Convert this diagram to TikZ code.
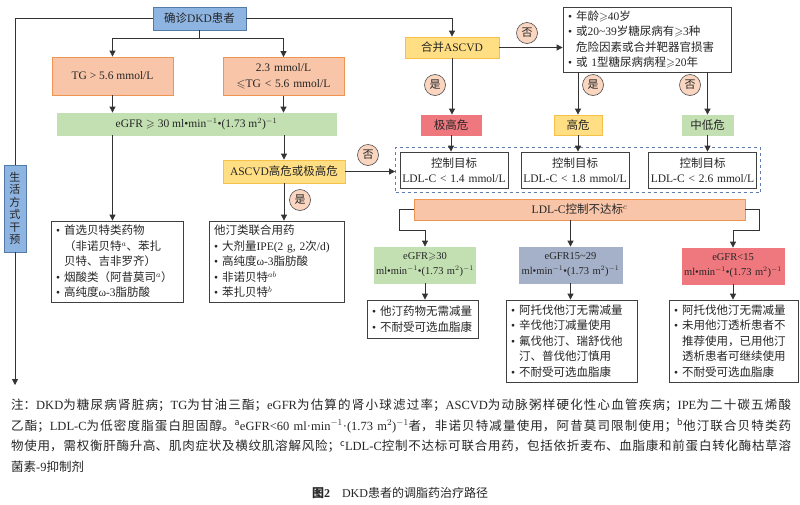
\documentclass[tikz,border=0pt]{standalone}
\usepackage{amssymb}
\usepackage{fontspec}
\setmainfont{Noto Sans CJK SC}
\newfontfamily\cjk{Noto Sans CJK SC}
\newfontfamily\latin{Liberation Serif}
\usetikzlibrary{arrows.meta,fit}

% 汉字与西文自动换字体
\XeTeXinterchartokenstate=1
\chardef\cjkcls=9
\newcount\cjkc
\def\setcjkcls#1#2{\cjkc=#1\relax
  \loop\XeTeXcharclass\cjkc=\cjkcls\relax
  \ifnum\cjkc<#2\advance\cjkc by 1\repeat}
\setcjkcls{"3000}{"303F}
\setcjkcls{"4E00}{"9FFF}
\setcjkcls{"FF00}{"FFEF}
\XeTeXinterchartoks 0 \cjkcls = {\cjk}
\XeTeXinterchartoks 1 \cjkcls = {\cjk}
\XeTeXinterchartoks 2 \cjkcls = {\cjk}
\XeTeXinterchartoks 3 \cjkcls = {\cjk}
\XeTeXinterchartoks 4095 \cjkcls = {\cjk}
\XeTeXinterchartoks \cjkcls 0 = {\latin}
\XeTeXinterchartoks \cjkcls 1 = {\latin}
\XeTeXinterchartoks \cjkcls 2 = {\latin}
\XeTeXinterchartoks \cjkcls 3 = {\latin}
\XeTeXinterchartoks 4095 0 = {\latin}
\XeTeXinterchartoks 4095 1 = {\latin}
\XeTeXinterchartoks 4095 2 = {\latin}
\XeTeXinterchartoks 4095 3 = {\latin}

\definecolor{cblue}{RGB}{142,180,226}
\definecolor{cblueline}{RGB}{84,122,170}
\definecolor{corg}{RGB}{248,197,168}
\definecolor{corgline}{RGB}{240,148,84}
\definecolor{cgrn}{RGB}{195,224,178}
\definecolor{cylw}{RGB}{255,222,132}
\definecolor{cylwline}{RGB}{247,192,72}
\definecolor{cred}{RGB}{239,120,126}
\definecolor{cgry}{RGB}{164,177,200}
\definecolor{ccirc}{RGB}{250,213,192}
\definecolor{cframe}{RGB}{96,124,172}

\newcommand{\dotitem}{\textbullet\hspace{4pt}}
\newcommand{\dotskip}{\phantom{\dotitem}}
\newcommand{\gfrunit}{\mbox{ml•min$^{-1}$•(1.73 m$^2$)$^{-1}$}}

\tikzset{
  every node/.style={font=\fontsize{11.5}{15.5}\selectfont, text=black!85},
  bx/.style={rectangle, inner sep=2pt, line width=0.8pt},
  bluebx/.style={bx, fill=cblue, draw=cblueline},
  orgbx/.style={bx, fill=corg, draw=corgline},
  grnbx/.style={bx, fill=cgrn, draw=cgrn},
  ylwbx/.style={bx, fill=cylw, draw=cylwline},
  redbx/.style={bx, fill=cred, draw=cred},
  grybx/.style={bx, fill=cgry, draw=cgry},
  tgtbx/.style={bx, fill=white, draw=black!75, minimum width=108pt, minimum height=36pt, text width=104pt, align=center},
  gfrbx/.style={minimum height=36pt, inner xsep=0pt, align=center, font=\fontsize{10.5}{15}\selectfont},
  txtbx/.style={bx, inner xsep=5pt, fill=white, draw=black!75, align=left},
  yn/.style={circle, fill=ccirc, draw=black!70, line width=0.6pt, inner sep=0pt, minimum size=21pt, font=\fontsize{11}{11}\selectfont},
  ln/.style={line width=0.8pt, draw=black!80},
  arr/.style={ln, -{Triangle[length=6pt,width=6pt]}}
}

\begin{document}
\begin{tikzpicture}[x=1pt, y=-1pt]
    \useasboundingbox[fill=white] (0,0) rectangle (800,504);

    % 左侧
    \node[bluebx, minimum width=93pt, minimum height=23pt] (dkd) at (199.5,18.5) {确诊DKD患者};
    \node[orgbx, minimum width=121pt, minimum height=38pt] (tg1) at (112.5,76) {TG > 5.6 mmol/L};
    \node[orgbx, minimum width=121pt, minimum height=38pt, text width=117pt, align=center] (tg2) at (283.5,76.5) {2.3 mmol/L\\$\leqslant$TG < 5.6 mmol/L};
    \node[grnbx, minimum width=279pt, minimum height=22pt] (egfr) at (196.5,124) {eGFR $\geqslant$ 30 \gfrunit};
    \node[ylwbx, minimum width=122pt, minimum height=23pt] (hr) at (284,171.5) {ASCVD高危或极高危};
    \node[txtbx, text width=122pt, minimum height=81pt] (fib) at (117,261.5) {
        \dotitem 首选贝特类药物\\
        \dotskip （非诺贝特$^a$、苯扎\\
        \dotskip 贝特、吉非罗齐）\\
        \dotitem 烟酸类（阿昔莫司$^a$）\\
        \dotitem 高纯度ω-3脂肪酸};
    \node[txtbx, text width=125pt, minimum height=81pt] (statin) at (276.5,261.5) {
        他汀类联合用药\\
        \dotitem 大剂量IPE(2 g, 2次/d)\\
        \dotitem 高纯度ω-3脂肪酸\\
        \dotitem 非诺贝特$^{ab}$\\
        \dotitem 苯扎贝特$^b$};
    \node[bluebx, minimum width=22pt, minimum height=87pt, inner sep=1pt, text width=14pt, align=center, font=\fontsize{11}{12.5}\selectfont] (life) at (15,208.5) {生\\活\\方\\式\\干\\预};
    \coordinate (lifeend) at (15,385);

    % 右侧：风险分层
    \node[ylwbx, minimum width=94pt, minimum height=21pt] (ascvd) at (452,47.5) {合并ASCVD};
    \node[txtbx, text width=158pt, minimum height=65pt] (risk) at (647,39.5) {
        \dotitem 年龄$\geqslant$40岁\\
        \dotitem 或20\textasciitilde39岁糖尿病有$\geqslant$3种\\
        \dotskip 危险因素或合并靶器官损害\\
        \dotitem 或 1型糖尿病病程$\geqslant$20年};
    \node[redbx, minimum width=60pt, minimum height=20pt] (vhigh) at (451,125) {极高危};
    \node[ylwbx, minimum width=48pt, minimum height=20pt] (high) at (578,125) {高危};
    \node[grnbx, minimum width=51pt, minimum height=20pt] (low) at (707.5,125) {中低危};

    % 控制目标
    \node[tgtbx] (t1) at (454,170) {控制目标\\LDL-C < 1.4 mmol/L};
    \node[tgtbx] (t2) at (575,170) {控制目标\\LDL-C < 1.8 mmol/L};
    \node[tgtbx] (t3) at (702.5,170) {控制目标\\LDL-C < 2.6 mmol/L};
    \node[draw=cframe, dashed, line width=1pt, fit=(t1)(t3), inner sep=4pt] (frame) {};

    % 不达标
    \node[orgbx, minimum width=331pt, minimum height=21pt] (ldl) at (579.5,209.5) {LDL-C控制不达标$^c$};
    \node[grnbx, gfrbx, minimum width=101pt, text width=101pt] (g1) at (425,265) {eGFR$\geqslant$30\\\gfrunit};
    \node[grybx, gfrbx, minimum width=103pt, text width=103pt] (g2) at (570.5,265) {eGFR15\textasciitilde29\\\gfrunit};
    \node[redbx, gfrbx, minimum width=102pt, text width=102pt] (g3) at (733,266) {eGFR<15\\\gfrunit};
    \node[txtbx, text width=101pt, minimum height=38pt] (b1) at (422.5,319) {
        \dotitem 他汀药物无需减量\\
        \dotitem 不耐受可选血脂康};
    \node[txtbx, text width=121pt, minimum height=82pt] (b2) at (571.5,341) {
        \dotitem 阿托伐他汀无需减量\\
        \dotitem 辛伐他汀减量使用\\
        \dotitem 氟伐他汀、瑞舒伐他\\
        \dotskip 汀、普伐他汀慎用\\
        \dotitem 不耐受可选血脂康};
    \node[txtbx, text width=119pt, minimum height=82pt] (b3) at (733.5,341) {
        \dotitem 阿托伐他汀无需减量\\
        \dotitem 未用他汀透析患者不\\
        \dotskip 推荐使用，已用他汀\\
        \dotskip 透析患者可继续使用\\
        \dotitem 不耐受可选血脂康};

    % 是/否
    \node[yn] (no1) at (527,33) {否};
    \node[yn] (yes1) at (435,85) {是};
    \node[yn] (yes2) at (593,85) {是};
    \node[yn] (no2) at (690,85) {否};
    \node[yn] (yes3) at (300,200) {是};
    \node[yn] (no3) at (368,155) {否};

    % 连线
    \coordinate (split) at (199.5,38);
    \draw[ln] (dkd.west) -| (life.north);
    \draw[arr] (life.south) -- (lifeend);
    \draw[arr] (dkd.east) -| (ascvd.north);
    \draw[ln] (dkd.south) -- (split);
    \draw[arr] (split) -| (tg1.north);
    \draw[arr] (split) -| (tg2.north);
    \draw[arr] (tg1.south) -- (tg1.south |- egfr.north);
    \draw[arr] (tg2.south) -- (tg2.south |- egfr.north);
    \draw[arr] (egfr.south -| tg1) -- (fib.north -| tg1);
    \draw[arr] (egfr.south -| hr) -- (hr.north);
    \draw[arr] (hr.south) -- (statin.north -| hr);
    \draw[arr] (hr.east) -- (hr.east -| frame.west);
    \draw[arr] (ascvd.east) -- (ascvd.east -| risk.west);
    \draw[arr] (ascvd.south) -- (vhigh.north -| ascvd);
    \draw[arr] (risk.south -| high) -- (high.north);
    \draw[arr] (risk.south -| low) -- (low.north);
    \draw[arr] (vhigh.south) -- (t1.north -| vhigh);
    \draw[arr] (high.south) -- (t2.north -| high);
    \draw[arr] (low.south) -- (t3.north -| low);
    \draw[arr] (ldl.west) -- ++(-14,0) -- ++(0,20.5) -| (g1.north);
    \draw[arr] (ldl.south -| g2) -- (g2.north);
    \draw[arr] (ldl.east) -- ++(14,0) -- ++(0,20.5) -| (g3.north);
    \draw[arr] (g1.south) -- (b1.north -| g1);
    \draw[arr] (g2.south) -- (b2.north -| g2);
    \draw[arr] (g3.south) -- (b3.north -| g3);

    % 注释
    \node[anchor=north west, inner sep=0pt, text width=780pt, align=justify, font=\fontsize{12.5}{20.5}\selectfont] (note) at (11,399) {%
        \XeTeXlinebreaklocale "zh"\XeTeXlinebreakskip=0pt plus 1.5pt\relax
        注：DKD为糖尿病肾脏病；TG为甘油三酯；eGFR为估算的肾小球滤过率；ASCVD为动脉粥样硬化性心血管疾病；IPE为二十碳五烯酸\linebreak
        乙酯；LDL-C为低密度脂蛋白胆固醇。$^{\mathrm{a}}$eGFR<60 ml·min$^{-1}$·(1.73 m$^2$)$^{-1}$者，非诺贝特减量使用，阿昔莫司限制使用；$^{\mathrm{b}}$他汀联合贝特类药\linebreak
        物使用，需权衡肝酶升高、肌肉症状及横纹肌溶解风险；$^{\mathrm{c}}$LDL-C控制不达标可联合用药，包括依折麦布、血脂康和前蛋白转化酶枯草溶\linebreak
        菌素-9抑制剂};
    \node[font=\fontsize{12}{14}\selectfont] (cap) at (400,493) {\textbf{图2}\quad DKD患者的调脂药治疗路径};
\end{tikzpicture}
\end{document}
